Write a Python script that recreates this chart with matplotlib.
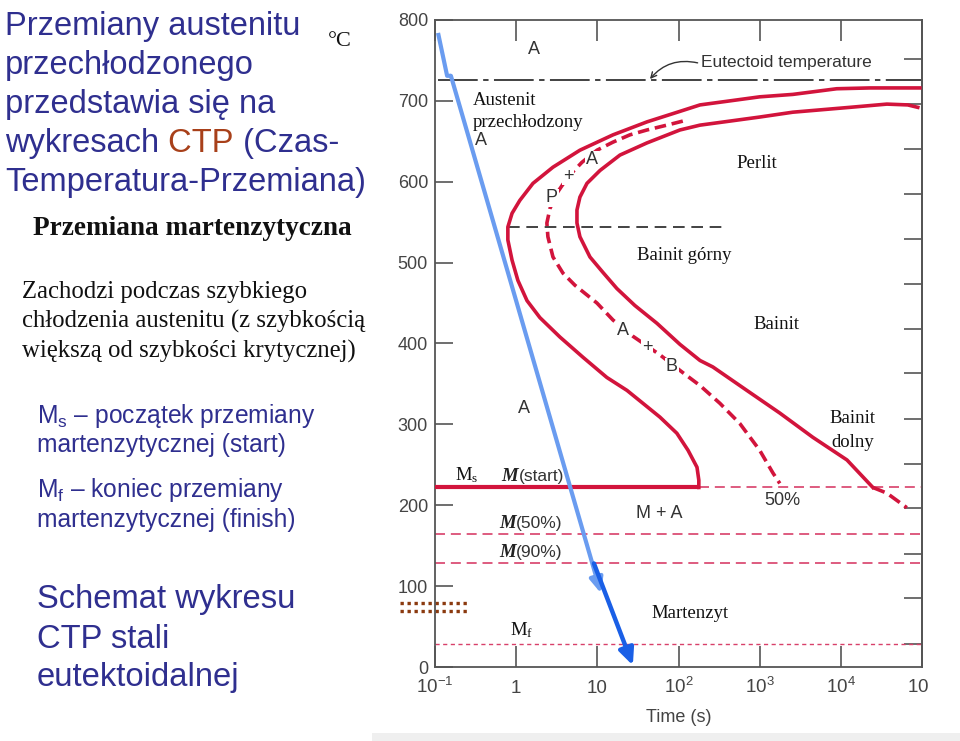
import matplotlib
matplotlib.use('Agg')
import matplotlib.pyplot as plt
from matplotlib.patches import Rectangle
from matplotlib.ticker import NullLocator

plt.rcParams['font.family'] = ['Liberation Sans', 'DejaVu Sans']
plt.rcParams['mathtext.fontset'] = 'custom'
plt.rcParams['mathtext.rm'] = 'Liberation Sans'
plt.rcParams['mathtext.it'] = 'Liberation Sans:italic'

# ---------------- data ----------------
time_ticks = [0.1, 1, 10, 100, 1000, 10000, 100000]
time_tick_labels = [r'$\mathregular{10^{-1}}$', '1', '10', r'$\mathregular{10^{2}}$',
                    r'$\mathregular{10^{3}}$', r'$\mathregular{10^{4}}$', r'$\mathregular{10^{5}}$']
temp_ticks = [0, 100, 200, 300, 400, 500, 600, 700, 800]
right_ticks_C = [29, 85, 140, 196, 251, 307, 363, 418, 474, 529, 585, 641, 696, 752]

# transformation start curve (outer C)
start_time = [94000, 22800, 8900, 2560, 1000, 430, 184, 104, 40.8, 15.6, 6.1, 2.84, 1.61, 1.11,
              0.89, 0.79, 0.79, 0.89, 1.05, 1.36, 1.96, 3.46, 6.65, 13.1, 23.2, 36.5, 59.0,
              95.5, 131, 169, 178, 178]
start_temp = [716, 716, 715, 708, 705, 700, 695, 687, 674, 658, 639, 618, 598, 577, 561, 544,
              528, 503, 478, 453, 432, 408, 383, 358, 342, 326, 309, 289, 268, 247, 231, 222]
# transformation finish curve (inner C)
finish_time = [88700, 66800, 36900, 12900, 2560, 1000, 430, 184, 104, 40.8, 19.0, 10.8, 7.45,
               6.1, 5.61, 5.61, 6.1, 8.11, 11.7, 17.4, 29.0, 54.2, 104, 184, 265, 695, 1770,
               4520, 11900, 24800]
finish_temp = [692, 695, 696, 692, 686, 680, 675, 670, 664, 648, 633, 614, 598, 581, 565, 549,
               532, 507, 488, 468, 447, 425, 399, 379, 371, 342, 314, 284, 256, 222]
finish_low_time = [24800, 36900, 65000]
finish_low_temp = [222, 215, 197]
# 50 % curve (dashed)
half_time = [113, 71.9, 40.8, 25.2, 15.6, 9.9, 6.46, 4.35, 3.18, 2.61, 2.39, 2.46, 2.84, 3.77,
             5.30, 9.9, 15.6, 27.4, 59.0, 113, 184, 324, 570, 1000, 1455, 1770]
half_temp = [675, 670, 664, 658, 649, 639, 624, 606, 586, 567, 549, 532, 507, 487, 472, 450,
             429, 409, 386, 364, 348, 326, 301, 268, 240, 227]

eutectoid_T = 726
split_T = 544
split_time = [0.79, 400]
Ms_T = 222
Ms_end_time = 178
M50_T = 165
M90_T = 129
Mf_T = 29

cool_light_time = [0.109, 0.141, 0.157]
cool_light_temp = [784, 731, 731]
cool_light_tip = (11.1, 91)
cool_dark_start = (9.08, 128)
cool_dark_tip = (27.4, 2)

brown_time = [0.037, 0.27]
brown_temps = [78.6, 68.7]

# ---------------- figure ----------------
W, H = 960, 741
fig = plt.figure(figsize=(9.6, 7.41), dpi=100)
fig.patch.set_facecolor('white')


def fx(px):
    return px / W


def fy(py):
    return 1 - py / H


NAVY = '#2f2f8f'
RUST = '#a8401a'
RED = '#d2143c'
RED_T = '#d8406a'
GRAY = '#444444'

# ---------- left slide text ----------
TS = 23.5
title_lines = ['Przemiany austenitu', 'przechłodzonego', 'przedstawia się na']
base = [35, 74, 113, 152, 191]
for s, b in zip(title_lines, base):
    fig.text(fx(5), fy(b), s, fontsize=TS, color=NAVY, va='baseline', ha='left')
t1 = fig.text(fx(5), fy(base[3]), 'wykresach', fontsize=TS, color=NAVY, va='baseline', ha='left')
t2 = fig.text(0, 0, ' CTP', fontsize=TS, color=RUST, va='baseline', ha='left')
t3 = fig.text(0, 0, ' (Czas-', fontsize=TS, color=NAVY, va='baseline', ha='left')
fig.text(fx(5), fy(base[4]), 'Temperatura-Przemiana)', fontsize=TS, color=NAVY,
         va='baseline', ha='left')

fig.text(fx(33), fy(235), 'Przemiana martenzytyczna', fontsize=19.6, fontweight='bold',
         family='Liberation Serif', color='#111111', va='baseline')
for s, b in zip(['Zachodzi podczas szybkiego', 'chłodzenia austenitu (z szybkością',
                 'większą od szybkości krytycznej)'], [298, 328, 358]):
    fig.text(fx(22), fy(b), s, fontsize=17.8, family='Liberation Serif', color='#111111',
             va='baseline')

for s, b in zip([r'$\mathregular{M_s}$ – początek przemiany', 'martenzytycznej (start)',
                 r'$\mathregular{M_f}$ – koniec przemiany', 'martenzytycznej (finish)'],
                [423, 452, 497, 527]):
    fig.text(fx(37), fy(b), s, fontsize=17.7, color=NAVY, va='baseline')
for s, b in zip(['Schemat wykresu', 'CTP stali', 'eutektoidalnej'], [608, 648, 686]):
    fig.text(fx(37), fy(b), s, fontsize=23.6, color=NAVY, va='baseline')

fig.text(fx(340), fy(46), '°C', fontsize=16, family='Liberation Serif', color='#111111',
         va='baseline', ha='center')

# ---------- diagram ----------
ax = fig.add_axes([fx(435), fy(667), (922 - 435) / W, (667 - 20) / H])
ax.set_xscale('log')
ax.set_xlim(0.1, 1e5)
ax.set_ylim(0, 800)
for sp in ax.spines.values():
    sp.set_color('#555555')
    sp.set_linewidth(1.3)
ax.xaxis.set_minor_locator(NullLocator())
ax.set_xticks(time_ticks)
ax.set_xticklabels(time_tick_labels)
ax.set_yticks(temp_ticks)
ax.tick_params(axis='x', which='major', direction='in', length=15, width=1.2, color='#555555',
               top=True, labelsize=13.5, labelcolor=GRAY, pad=18.5)
ax.tick_params(axis='y', which='major', direction='in', length=13, width=1.2, color='#555555',
               right=False, labelsize=13, labelcolor=GRAY, pad=5)
for lbl in ax.get_xticklabels():
    lbl.set_verticalalignment('baseline')
ax.set_xlabel('Time (s)', fontsize=13, color=GRAY, labelpad=9)

sec = ax.secondary_yaxis('right', functions=(lambda v: v, lambda v: v))
sec.set_yticks(right_ticks_C)
sec.tick_params(direction='in', length=13, width=1.2, color='#555555', labelright=False)
sec.spines['right'].set_color('#555555')
sec.spines['right'].set_linewidth(1.3)

# reference lines
ax.axhline(eutectoid_T, xmin=0.006, color='#333333', lw=1.3, dashes=(22, 3, 3, 3))
ax.plot(split_time, [split_T, split_T], color='#222222', lw=1.2, dashes=(7, 4))
ax.plot([0.1, Ms_end_time], [Ms_T, Ms_T], color=RED, lw=3.0, solid_capstyle='butt', zorder=3)
ax.plot([Ms_end_time, 1e5], [Ms_T, Ms_T], color=RED_T, lw=1.2, dashes=(6, 3.5))
ax.axhline(M50_T, color=RED_T, lw=1.2, dashes=(6, 3.5))
ax.axhline(M90_T, color=RED_T, lw=1.2, dashes=(6, 3.5))
ax.axhline(Mf_T, color=RED_T, lw=1.0, dashes=(3, 2.5))

# transformation curves
ax.plot(start_time, start_temp, color=RED, lw=2.6, solid_joinstyle='round', zorder=3)
ax.plot(finish_time, finish_temp, color=RED, lw=2.6, solid_joinstyle='round', zorder=3)
ax.plot(finish_low_time, finish_low_temp, color=RED, lw=2.6, dashes=(3.5, 1.6), zorder=3)
ax.plot(half_time, half_temp, color=RED, lw=2.6, dashes=(3.2, 1.6), zorder=3)

# cooling paths
LBLUE = '#6a9cf0'
DBLUE = '#1a5fe6'
ax.plot(cool_light_time, cool_light_temp, color=LBLUE, lw=3, solid_capstyle='butt', zorder=4)
ax.annotate('', xy=cool_light_tip, xytext=(cool_light_time[-1], cool_light_temp[-1]),
            arrowprops=dict(arrowstyle='-|>,head_length=0.5,head_width=0.22', lw=3,
                            color=LBLUE, shrinkA=0, shrinkB=0, mutation_scale=18), zorder=4)
ax.annotate('', xy=cool_dark_tip, xytext=cool_dark_start,
            arrowprops=dict(arrowstyle='-|>,head_length=0.55,head_width=0.25', lw=3.2,
                            color=DBLUE, shrinkA=0, shrinkB=0, mutation_scale=18), zorder=5)

# brown double dotted mark
for tv in brown_temps:
    ax.plot(brown_time, [tv, tv], color='#8b3a0f', lw=2.4, dashes=(1, 1.1), clip_on=False)

# eutectoid annotation
ax.text(189, 748, 'Eutectoid temperature', fontsize=12.5, color='#333333', ha='left',
        va='center')
ax.annotate('', xy=(44.5, 727), xytext=(172, 747),
            arrowprops=dict(arrowstyle='->', connectionstyle='arc3,rad=0.3', lw=1,
                            color='#333333', shrinkA=0, shrinkB=0))

sans_kw = dict(fontsize=13, color='#333333', ha='center', va='center', zorder=6)
for (tx, ty, s) in [(1.66, 763, 'A'), (0.37, 651, 'A'), (1.25, 320, 'A'),
                    (58.2, 190, 'M + A'), (1930, 206, '50%')]:
    ax.text(tx, ty, s, **sans_kw)
wb = dict(facecolor='white', edgecolor='none', pad=0.6)
for (tx, ty, s) in [(2.76, 580, 'P'), (4.35, 607, '+'), (8.58, 627, 'A'),
                    (20.7, 416, 'A'), (40.8, 395, '+'), (83, 371, 'B')]:
    ax.text(tx, ty, s, bbox=wb, **sans_kw)

# M(start), M(50%), M(90%)
for (tx, ty, s) in [(0.66, 229.6, '(start)'), (0.62, 171.4, '(50%)'), (0.62, 135.5, '(90%)')]:
    ax.text(tx, ty, 'M', fontsize=13.5, family='Liberation Serif', fontweight='bold',
            style='italic', color='#222222', ha='left', va='baseline')
    ax.annotate(s, xy=(tx, ty), xycoords='data', xytext=(17, 0), textcoords='offset pixels',
                fontsize=12.5, color='#333333', ha='left', va='baseline')

# Polish serif labels
serif_kw = dict(fontsize=13.5, family='Liberation Serif', color='#111111', va='center')
ax.text(0.294, 701, 'Austenit', ha='left', **serif_kw)
ax.text(0.294, 673, 'przechłodzony', ha='left', **serif_kw)
ax.text(924, 623, 'Perlit', ha='center', **serif_kw)
ax.text(30.7, 509, 'Bainit górny', ha='left', **serif_kw)
ax.text(1630, 423, 'Bainit', ha='center', **serif_kw)
ax.text(14050, 307, 'Bainit', ha='center', **serif_kw)
ax.text(14050, 278, 'dolny', ha='center', **serif_kw)
ax.text(47, 66, 'Martenzyt', ha='left', **serif_kw)
ax.text(0.248, 237, r'$\mathregular{M_s}$', ha='center', **serif_kw)
ax.text(1.18, 45, r'$\mathregular{M_f}$', ha='center', **serif_kw)

# cut-off of the scanned picture at right edge, grey strip at bottom
fig.patches.append(Rectangle((fx(929), fy(706)), 1 - fx(929), (706 - 670) / H,
                             transform=fig.transFigure, facecolor='white', edgecolor='none',
                             zorder=10))
fig.patches.append(Rectangle((fx(372), 0), 1 - fx(372), 8 / H, transform=fig.transFigure,
                             facecolor='#efefef', edgecolor='none', zorder=10))

# chain the coloured title pieces
fig.canvas.draw()
r = fig.canvas.get_renderer()
bb1 = t1.get_window_extent(r)
t2.set_position((bb1.x1 / W, fy(base[3])))
bb2 = t2.get_window_extent(r)
t3.set_position((bb2.x1 / W, fy(base[3])))

fig.savefig('out.png', dpi=100)
